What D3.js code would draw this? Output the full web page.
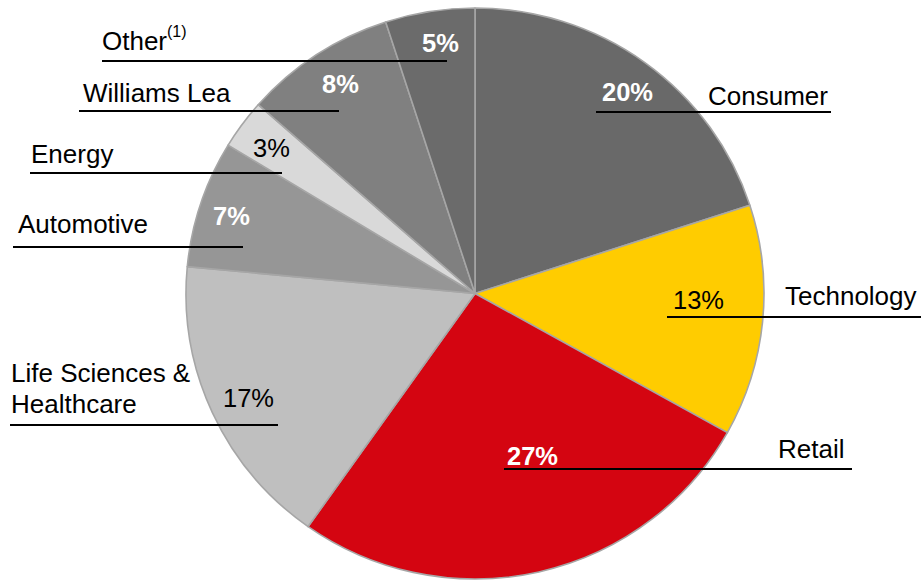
<!DOCTYPE html>
<html>
<head>
<meta charset="utf-8">
<script src="https://cdn.jsdelivr.net/npm/d3@7/dist/d3.min.js"></script>
<style>
  html, body { margin: 0; padding: 0; background: #fff; }
  svg { display: block; }
  text { font-family: "Liberation Sans", Arial, sans-serif; }
</style>
</head>
<body>
<svg id="chart" width="923" height="581"></svg>
<script>
// ---- data ----
const categories = ["Consumer", "Technology", "Retail", "Life Sciences & Healthcare", "Automotive", "Energy", "Williams Lea", "Other"];
const values = [20.0, 13.1, 26.7, 16.7, 7.2, 2.8, 8.5, 5.0];
const percentLabels = ["20%", "13%", "27%", "17%", "7%", "3%", "8%", "5%"];
const colors = ["#696969", "#ffcc00", "#d40511", "#bfbfbf", "#969696", "#d9d9d9", "#808080", "#6b6b6b"];
const pctWhite = [true, false, true, false, true, false, true, true];

// ---- layout (positions of callouts) ----
const layout = [
  { name: ["Consumer"], nx: 708, ny: [105], px: 602, py: 101, line: [596, 831, 112] },
  { name: ["Technology"], nx: 785, ny: [305], px: 673, py: 309, line: [667, 921, 317] },
  { name: ["Retail"], nx: 778, ny: [458], px: 507, py: 465, line: [504, 852, 469] },
  { name: ["Life Sciences &", "Healthcare"], nx: 11, ny: [382, 413], px: 223, py: 407, line: [10, 278, 425] },
  { name: ["Automotive"], nx: 18, ny: [233], px: 213, py: 225, line: [13, 243, 247] },
  { name: ["Energy"], nx: 31, ny: [163], px: 253, py: 157, line: [30, 282, 173] },
  { name: ["Williams Lea"], nx: 83, ny: [102], px: 322, py: 93, line: [79, 339, 111] },
  { name: ["Other"], nx: 102, ny: [50], px: 422, py: 52, line: [102, 447, 61], sup: "(1)" }
];

const svg = d3.select("#chart");
const cx = 475, cy = 293.5, rx = 289, ry = 285.5;

const pie = d3.pie().sort(null).value(d => d)(values);
const arc = d3.arc().innerRadius(0).outerRadius(rx);

const g = svg.append("g").attr("transform", `translate(${cx},${cy}) scale(1,${ry / rx})`);
g.selectAll("path.slice")
  .data(pie)
  .enter().append("path")
  .attr("class", "slice")
  .attr("d", arc)
  .attr("fill", (d, i) => colors[i])
  .attr("stroke", "#a6a6a6")
  .attr("stroke-width", 1.6)
  .attr("stroke-linejoin", "round");

const fontSize = 26;
const labels = svg.append("g");

layout.forEach((L, i) => {
  labels.append("line")
    .attr("x1", L.line[0]).attr("x2", L.line[1])
    .attr("y1", L.line[2]).attr("y2", L.line[2])
    .attr("stroke", "#000").attr("stroke-width", 2);
  L.name.forEach((t, k) => {
    const txt = labels.append("text")
      .attr("x", L.nx).attr("y", L.ny[k])
      .attr("font-size", fontSize)
      .attr("fill", "#000")
      .text(t);
    if (L.sup && k === 0) {
      txt.append("tspan")
        .attr("font-size", 16)
        .attr("dy", -13)
        .text(L.sup);
    }
  });
  labels.append("text")
    .attr("x", L.px).attr("y", L.py)
    .attr("font-size", 25.5)
    .attr("font-weight", pctWhite[i] ? "bold" : "normal")
    .attr("fill", pctWhite[i] ? "#fff" : "#000")
    .text(percentLabels[i]);
});
</script>
</body>
</html>
